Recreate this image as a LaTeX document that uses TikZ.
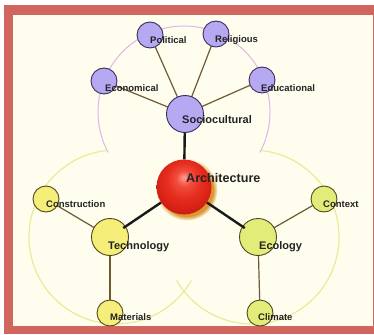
\documentclass[tikz,border=0pt]{standalone}
\usepackage{fontspec}
\setmainfont{Liberation Sans}
\usetikzlibrary{shadows,backgrounds}
\definecolor{framered}{RGB}{208,102,94}
\definecolor{cream}{RGB}{255,253,238}
\definecolor{purplefill}{RGB}{183,168,242}
\definecolor{purpleedge}{RGB}{60,46,90}
\definecolor{yellowfill}{RGB}{245,238,120}
\definecolor{greenfill}{RGB}{226,236,120}
\definecolor{oliveedge}{RGB}{80,72,30}
\definecolor{linkbrown}{RGB}{110,90,50}
\definecolor{pinkarc}{RGB}{226,180,232}
\definecolor{yellowarc}{RGB}{232,236,150}
\definecolor{glow}{RGB}{215,140,30}
\definecolor{txt}{RGB}{35,35,35}
\pgfdeclareradialshading{redball}{\pgfpoint{0bp}{9bp}}{%
  rgb(0bp)=(1,0.62,0.58);
  rgb(7bp)=(0.95,0.30,0.24);
  rgb(16bp)=(0.90,0.18,0.12);
  rgb(26bp)=(0.84,0.12,0.08);
  rgb(34bp)=(0.66,0.07,0.04);
  rgb(50bp)=(0.6,0.05,0.03)}
\begin{document}
\begin{tikzpicture}[x=1pt,y=-1pt,
  pnode/.style={circle,draw=purpleedge,line width=0.9pt,fill=purplefill,inner sep=0pt},
  ynode/.style={circle,draw=oliveedge,line width=0.9pt,fill=yellowfill,inner sep=0pt},
  gnode/.style={circle,draw=oliveedge,line width=0.9pt,fill=greenfill,inner sep=0pt},
  small/.style={minimum size=26pt},
  mid/.style={minimum size=37pt},
  lbl/.style={anchor=west,inner sep=0pt,text=txt,font=\bfseries\fontsize{9.5}{10}\selectfont},
  lblm/.style={lbl,font=\bfseries\fontsize{11}{12}\selectfont},
  lbll/.style={lbl,font=\bfseries\fontsize{12.6}{14}\selectfont},
  thin/.style={draw=linkbrown,line width=1.2pt},
  thick/.style={draw=black!90,line width=2.4pt}]
\useasboundingbox (0,0) rectangle (374,334);
% nodes
\node[pnode,mid] (socio) at (185,114) {};
\node[pnode,small] (political) at (150,35) {};
\node[pnode,small] (religious) at (216,34) {};
\node[pnode,small] (economical) at (104,81) {};
\node[pnode,small] (educational) at (262,80) {};
\node[ynode,mid] (tech) at (110,237) {};
\node[ynode,small] (construction) at (46,199) {};
\node[ynode,small] (materials) at (110,313) {};
\node[gnode,mid] (eco) at (258,237) {};
\node[gnode,small] (context) at (324,199) {};
\node[gnode,small] (climate) at (260,313) {};
\node[circle,minimum size=55pt,inner sep=0pt,shading=redball,
  circular drop shadow={shadow xshift=2.5pt,shadow yshift=-2.5pt,shadow scale=1.12,fill=glow,opacity=0.9}] (arch) at (184,187) {};
% thick connectors
\draw[thick] (socio) -- (arch);
\draw[thick,shorten >=-3pt] (arch) -- (tech);
\draw[thick,shorten >=-3pt] (arch) -- (eco);
% labels
\node[lbl] (tpolitical) at (150,40) {Political};
\node[lbl] (treligious) at (215,40) {Religious};
\node[lbl] (teconomical) at (105,88) {Economical};
\node[lbl] (teducational) at (261,88) {Educational};
\node[lblm] (tsocio) at (182,120) {Sociocultural};
\node[lbll] (tarch) at (186,178) {Architecture};
\node[lbl] (tconstruction) at (46,204) {Construction};
\node[lblm] (ttech) at (108,247) {Technology};
\node[lblm] (teco) at (259,247) {Ecology};
\node[lbl] (tcontext) at (323,204) {Context};
\node[lbl] (tmaterials) at (110,317) {Materials};
\node[lbl] (tclimate) at (258,317) {Climate};
\begin{scope}[on background layer]
  \fill[white] (0,0) rectangle (374,334);
  \fill[framered] (4,5) rectangle (374,334);
  \fill[cream] (13,15) rectangle (373,326);
  \draw[pinkarc,line width=1pt] (184,112) ++(28:86) arc[start angle=28,end angle=-208,radius=86];
  \draw[yellowarc,line width=1.2pt] (116,237) ++(-96:87) arc[start angle=-96,end angle=-330,radius=87];
  \draw[yellowarc,line width=1.2pt] (252,237) ++(-84:87) arc[start angle=-84,end angle=150,radius=87];
  \draw[thin] (socio.center) -- (political.center);
  \draw[thin] (socio.center) -- (religious.center);
  \draw[thin] (socio.center) -- (economical.center);
  \draw[thin] (socio.center) -- (educational.center);
  \draw[thin] (tech.center) -- (construction.center);
  \draw[thin] (tech.center) -- (materials.center);
  \draw[thin] (eco.center) -- (context.center);
  \draw[thin] (eco.center) -- (climate.center);
\end{scope}
\end{tikzpicture}
\end{document}
